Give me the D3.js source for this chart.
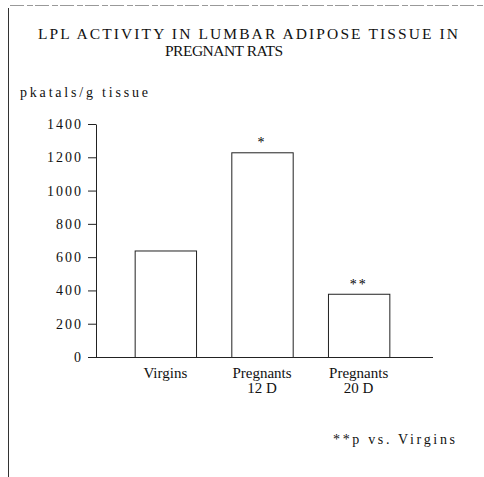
<!DOCTYPE html>
<html>
<head>
<meta charset="utf-8">
<script src="https://cdn.jsdelivr.net/npm/d3@7"></script>
<style>
  body { margin: 0; background: #fff; }
</style>
</head>
<body>
<svg id="chart" width="484" height="477"></svg>
<script>
// chart data
const categories = ["Virgins", "Pregnants 12 D", "Pregnants 20 D"];
const catLines = [["Virgins"], ["Pregnants", "12 D"], ["Pregnants", "20 D"]];
const values = [640, 1230, 380];
const marks = ["", "*", "**"];
const yTicks = [0, 200, 400, 600, 800, 1000, 1200, 1400];

const serif = "'Liberation Serif', 'Times New Roman', serif";
const svg = d3.select("#chart").attr("font-family", serif);

// frame (only top and left edges show in the scan)
svg.append("line").attr("x1", 10).attr("x2", 484).attr("y1", 5.5).attr("y2", 5.5)
  .attr("stroke", "#999").attr("stroke-dasharray", "14,3,6,2");
svg.append("line").attr("x1", 8.5).attr("x2", 8.5).attr("y1", 8).attr("y2", 477)
  .attr("stroke", "#333");

function label(txt, xx, yy, size, len) {
  const t = svg.append("text").attr("x", xx).attr("y", yy)
    .attr("font-family", serif).attr("font-size", size).attr("fill", "#111").text(txt);
  if (len) t.attr("textLength", len).attr("lengthAdjust", "spacing");
  return t;
}

// title
label("LPL ACTIVITY IN LUMBAR ADIPOSE TISSUE IN", 38, 39, 15.5, 420);
label("PREGNANT RATS", 165, 56, 15.5, 118);

// unit label
label("pkatals/g tissue", 20, 97, 14, 128);

const y = d3.scaleLinear().domain([0, 1400]).range([357, 124]);
const x = d3.scaleBand().domain(categories).range([96, 428])
  .paddingInner(0.365).paddingOuter(0.4);

// y axis
const yAxis = svg.append("g").attr("transform", "translate(96,0)")
  .call(d3.axisLeft(y).tickValues(yTicks).tickFormat(d3.format("d"))
    .tickSize(8).tickPadding(5).tickSizeOuter(0));
yAxis.attr("font-family", serif);
yAxis.select(".domain").attr("stroke", "#222");
yAxis.selectAll(".tick line").attr("stroke", "#222");
yAxis.selectAll(".tick text").attr("font-size", 14).attr("letter-spacing", 2)
  .attr("font-family", serif).attr("fill", "#111");

// x axis line
svg.append("line").attr("x1", 96).attr("x2", 433).attr("y1", y(0) + 0.5).attr("y2", y(0) + 0.5)
  .attr("stroke", "#222");

// bars
svg.selectAll("rect.bar")
  .data(categories)
  .enter()
  .append("rect")
  .attr("class", "bar")
  .attr("x", d => x(d) + 0.5)
  .attr("y", (d, i) => y(values[i]) + 0.5)
  .attr("width", x.bandwidth())
  .attr("height", (d, i) => y(0) - y(values[i]))
  .attr("fill", "#fff")
  .attr("stroke", "#222");

// significance marks
svg.selectAll("text.mark")
  .data(categories)
  .enter()
  .append("text")
  .attr("class", "mark")
  .attr("x", d => x(d) + x.bandwidth() / 2)
  .attr("y", (d, i) => y(values[i]) - 5)
  .attr("text-anchor", "middle")
  .attr("font-family", serif)
  .attr("font-size", 14)
  .attr("letter-spacing", 2)
  .text((d, i) => marks[i]);

// category labels
categories.forEach((c, i) => {
  catLines[i].forEach((ln, j) => {
    svg.append("text")
      .attr("x", x(c) + x.bandwidth() / 2)
      .attr("y", 378 + j * 15)
      .attr("text-anchor", "middle")
      .attr("font-family", serif)
      .attr("font-size", 15)
      .attr("fill", "#111")
      .text(ln);
  });
});

// footnote
label("**p vs. Virgins", 333, 444, 14, 122);
</script>
</body>
</html>
